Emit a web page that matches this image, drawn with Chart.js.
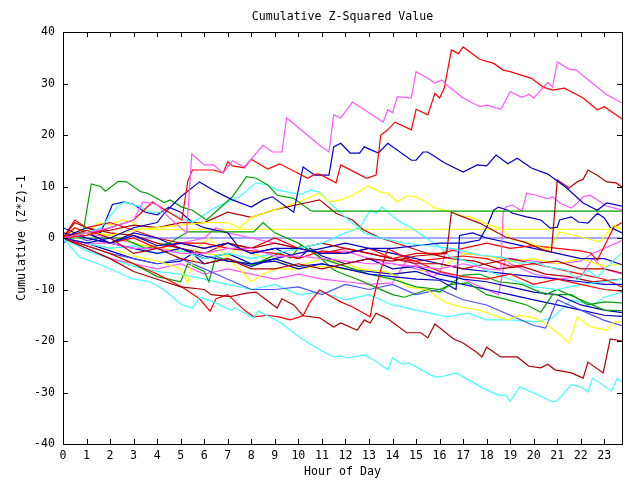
<!DOCTYPE html>
<html>
<head>
<meta charset="utf-8">
<title>Cumulative Z-Squared Value</title>
<script src="https://cdn.jsdelivr.net/npm/chart.js@4.4.0/dist/chart.umd.min.js"></script>
<style>
  html, body { margin: 0; padding: 0; background: #fff; }
  #chart { display: block; }
</style>
</head>
<body>
<canvas id="chart" width="640" height="480"></canvas>
<script>
// hour ticks and value range
const HOUR_TICKS = [0,1,2,3,4,5,6,7,8,9,10,11,12,13,14,15,16,17,18,19,20,21,22,23];
const X_MAX = 23.75;
const Y_TICKS = [-40, -30, -20, -10, 0, 10, 20, 30, 40];

// each series: [hour, cumulative value]
const magentaHigh = [[0,0],[1,1],[2,2],[3,3.5],[3.4,7],[4,6.5],[4.5,4],[5.25,1],[5.47,16.3],[6,14.2],[6.4,14.2],[6.8,12.6],[7.2,15],[7.7,13.8],[8.5,18],[8.9,16.7],[9.3,16.7],[9.5,23.3],[10.9,18],[11.3,16.7],[11.5,23.9],[11.8,23.3],[12.3,26.4],[13,24.3],[13.6,22.5],[13.8,24.9],[14,24.3],[14.2,27.4],[14.8,27.2],[15,32.3],[15.5,31],[15.8,30.1],[16.1,30.7],[16.3,29.7],[17,27.2],[17.7,25.5],[18,25.8],[18.6,25],[19,28.4],[19.5,27.3],[19.8,27.9],[20,27.2],[20.6,30.2],[20.8,29.3],[21,34.2],[21.5,32.8],[21.8,32.6],[23.1,27.8],[23.75,26.2]];
const redHigh = [[0,0],[1,0.5],[2,2],[3,3.5],[3.8,7],[4.5,5],[5.05,3.5],[5.3,11],[5.5,13.2],[6.4,13.2],[6.8,12.6],[7,14.8],[7.2,14],[7.7,13.6],[8,15.3],[8.7,13.4],[9.2,14.4],[9.8,13],[10.4,11.6],[10.7,12.4],[10.9,12.4],[11.6,10.7],[11.8,14.2],[12.9,11.6],[13.3,12.2],[13.5,20],[13.8,21],[14.1,22.5],[14.8,21],[15,25],[15.5,23.9],[15.8,28.1],[16,27.2],[16.2,29.1],[16.5,36.5],[16.8,35.8],[17,37.1],[17.7,34.7],[18.3,33.9],[18.7,32.6],[19,32.3],[19.9,31],[20.4,29.3],[20.8,28.7],[21.3,29.1],[22.1,27.2],[22.7,24.9],[23,25.5],[23.75,23.1]];
const blueHigh = [[0,0],[1,-1],[2,0],[3,2],[4,3],[4.3,4.8],[5,8],[5.8,10.9],[6.5,9],[7.2,7.4],[8,6],[8.5,7.4],[8.9,8],[9.8,5],[10.2,13.8],[10.7,12.2],[11.3,12.2],[11.5,17.7],[11.8,18.4],[12.2,16.5],[12.6,16.5],[12.8,17.7],[13.4,16.5],[13.8,18.4],[14.8,15.1],[15,15.1],[15.3,16.7],[15.5,16.7],[16.2,14.6],[17,12.8],[17.6,14.2],[18,14],[18.4,16.1],[18.9,14.4],[19.3,15.5],[19.9,13.6],[20.6,12.4],[21.4,9.7],[22.1,6.8],[22.7,5.4],[23.1,6.8],[23.75,6.2]];
const greenEarly = [[0,0],[0.5,0.5],[0.85,1],[1.2,10.5],[1.6,10],[1.8,9.1],[2.35,11],[2.7,10.9],[3.3,9],[3.6,8.7],[4.3,6.9],[4.55,7.4],[5.05,6],[5.5,5.4],[6.1,3.5],[7.2,8],[7.8,11.9],[8.2,11.6],[8.7,10.3],[9.1,8.3],[9.8,7.7],[10.5,5.4],[10.6,5.2],[23.75,5.2]];
const yellowFlat = [[0,0],[0.5,2],[1,1],[1.5,3],[2,2.5],[2.5,3.5],[3,3],[3.4,1.7],[23.75,1.7]];
const slateFlat = [[0,-1],[0.5,0.5],[1,-0.5],[1.6,0],[23.75,0]];
const greenMid = [[0,0],[0.7,0],[2.5,0],[3,-1],[3.5,-2],[4.5,-1],[5.3,1.2],[8.1,1.2],[8.5,3],[9,1],[10,-1],[11,-4],[12,-5.5],[13,-7],[14,-8],[15,-9.5],[16,-10],[16.5,-9],[17.2,-8.7],[18,-11],[18.9,-12],[19.7,-13],[20.3,-14.4],[20.8,-11],[21.6,-11],[22.3,-13],[23,-12.4],[23.75,-12.6]];
const cyanLow = [[0,0],[0.7,-3.7],[1.6,-5.2],[2.3,-6.6],[3,-8],[3.7,-8.5],[4.3,-10.1],[5.05,-13],[5.5,-13.6],[5.8,-11.5],[6.4,-12.4],[7.1,-14],[7.3,-13.6],[8.1,-15.5],[8.3,-14.2],[9.2,-16.3],[10.1,-19.4],[10.9,-21.7],[11.5,-23.1],[11.8,-22.9],[12.1,-23.3],[12.8,-22.7],[13.2,-23.7],[13.8,-25.6],[14,-23.3],[14.4,-24.5],[14.7,-24.3],[15.8,-27],[16.2,-26.8],[16.7,-26.2],[17.9,-29.3],[18.5,-30.5],[18.8,-30.5],[19,-31.7],[19.4,-28.9],[20,-30.1],[20.8,-31.8],[21,-31.6],[21.6,-28.5],[22,-28.9],[22.3,-29.9],[22.5,-27.2],[23.3,-29.7],[23.55,-27.2],[23.75,-28]];
const brownLow = [[0,0],[1,-2],[2,-4],[3,-6.5],[4,-8],[5,-9.5],[6,-10],[6.3,-11],[7.1,-11.4],[7.8,-10.7],[8.2,-10.5],[9.1,-13.6],[9.3,-11.8],[9.8,-13],[10.2,-15.1],[10.9,-15.5],[11.5,-17.3],[11.8,-16.5],[12.5,-17.9],[12.8,-15.9],[13.05,-16.5],[13.3,-14.6],[13.8,-15.7],[14.6,-18.4],[15.2,-18.4],[15.5,-19.4],[15.8,-16.7],[16.6,-19.6],[17,-20.4],[17.6,-22.3],[17.8,-23.1],[18,-21.2],[18.6,-23.1],[19.3,-23.1],[19.8,-24.9],[20.3,-25.2],[20.6,-24.5],[20.9,-25.6],[21.6,-26.2],[22.1,-27.2],[22.3,-24.1],[22.95,-26.2],[23.25,-19.6],[23.75,-20]];
const brownLate = [[0,0],[1,1.5],[2,0],[3,-3],[4,-2],[5,-4],[6,-5],[7,-4],[8,-6],[9,-6],[10,-5],[11,-6],[12,-5],[13,-4],[14,-4.5],[15,-3.5],[16.3,-3],[16.5,5],[17,4.1],[17.7,2.9],[18.8,0.2],[19.6,-0.8],[20.4,-2.3],[20.75,-2.7],[21,11.3],[21.5,9.7],[21.85,10.9],[22.1,11.4],[22.3,13.2],[22.7,12.2],[23.1,10.9],[23.5,10.7],[23.75,9.9]];
const yellowUpper = [[0,0],[1,1],[2,0.5],[3,1.5],[4,2],[5,2.5],[6,3],[7,3],[7.5,2],[8,4],[9,5.5],[10,7],[10.9,8.7],[11.3,7],[11.8,7.4],[12.3,8.3],[12.95,10.1],[13.5,8.9],[13.8,8.7],[14.2,7],[14.6,8.2],[15,8],[15.5,6.8],[15.8,5.8],[16.45,5.2],[16.9,4.3],[17.3,4.1],[18,2.7],[18.6,1.9],[19.1,-0.4],[19.7,-0.8],[20.6,-2.3],[21.1,1.2],[22,0.2],[22.8,-0.8],[23.4,2.5],[23.75,1.6]];
const cyanA = [[0,0],[1,1],[1.6,2],[2.3,6],[2.6,7],[3.3,6],[3.7,5],[4.5,5],[5.5,3],[6.1,4.8],[6.5,6],[7.5,8],[8.2,10.7],[8.7,10.3],[9.1,9.3],[9.8,8.7],[10.1,8.5],[10.5,9.3],[10.9,8.9],[11.3,7],[11.8,4.8],[12.8,1],[13.5,0],[14.5,-1],[15.5,-1.5],[16.5,-2],[17.7,-3.3],[18.6,-3.7],[19.4,-4.9],[20,-4.7],[20.6,-5.6],[21.4,-6.2],[21.85,-8.2],[22.3,-6.2],[22.7,-7.6],[23.4,-4.3],[23.75,-2.9]];
const cyanB = [[0,0],[1,-1],[2,-2],[3,-1.5],[4,-3],[5,-2.5],[6,-4],[7,-3],[8,-4],[9,-3],[10,-2],[11,-1],[12,1],[12.6,2],[13.05,5.4],[13.3,4.8],[13.55,6],[14.2,3.5],[14.75,2.1],[16,-1.7],[16.45,-3.7],[17,-4.3],[17.6,-5.2],[17.9,-6.2],[19,-8],[20,-9.5],[21,-10],[22,-9],[23,-8.5],[23.75,-8]];
const redJump = [[0,0],[1,-1.5],[2,-3],[3,-5],[4,-7],[5.05,-9.5],[5.8,-11.8],[6.25,-14.2],[6.5,-11.8],[7,-11],[7.7,-14],[8.1,-15.3],[8.7,-15],[9.15,-15.3],[9.65,-15.9],[10.2,-15.1],[10.5,-12.4],[10.9,-10.1],[11.8,-12.4],[12.3,-13.4],[13.05,-15.3],[13.2,-11.5],[13.5,-6.2],[13.8,-2.1],[14.6,-3.9],[15.2,-4.9],[16,-6.5],[17,-7.5],[18,-8],[19,-7],[20,-9],[21,-8],[22,-9],[23,-10],[23.75,-10.3]];
const redEnd = [[0,0],[0.5,2],[1,1],[2,-1],[3,0],[4,-2],[5,-1],[6,-1],[7,-2],[8,-2.5],[9,-3],[10,-4],[11,-2.5],[12,-3],[13,-2],[14,-4],[15,-3],[16,-3],[17,-2],[18,-1],[19,-2],[20,-1.5],[21,-2],[22,-2.5],[22.4,-2.9],[22.7,-4.3],[23.4,2.1],[23.75,3]];
const blueJump16 = [[0,1],[1,0],[2,-1],[3,-2],[4,-3],[5,-2],[6,-3.5],[7,-4.5],[8,-5],[9,-4.5],[10,-6],[11,-5],[12,-6],[13,-7],[14,-7.5],[15,-8],[16,-8.2],[16.7,-10],[16.85,0.5],[17.4,1],[18,0],[19,-1],[20,-2],[21,-3],[22,-4],[23,-4],[23.75,-5.2]];
const blueJump18 = [[0,0],[1,1],[2,-1],[3,0.5],[4,-1.5],[5,-1],[6,-2],[7,-1],[8,-3],[9,-2],[10,-2],[11,-3],[12,-3],[13,-2],[14,-2],[15,-1.5],[16,-1],[17,-1],[17.7,-0.4],[18,2.1],[18.3,5.4],[18.5,6],[18.9,5.4],[19.1,4.8],[19.7,4.1],[20.3,3.5],[20.7,1.9],[21,2.1],[21.1,3.5],[21.6,4.1],[21.9,3.1],[22.3,2.9],[22.7,4.8],[23,3.9],[23.25,2.1],[23.75,1]];
const magentaJump = [[0,0],[1,-1],[2,-1],[3,-2],[4,-2],[5,-3],[6,-3],[7,-2],[8,-2],[9,-3.5],[10,-3.5],[11,-4],[12,-4.5],[13,-5],[14,-5],[15,-5.5],[16,-6],[17,-5],[18,-6],[18.6,-6.2],[18.7,4.8],[18.8,6],[19.1,6.4],[19.5,5.2],[19.7,8.7],[20.1,8.3],[20.6,7.6],[20.8,8],[21.1,6.8],[21.6,5.8],[21.85,6.8],[22.1,8],[22.4,8.3],[22.7,7.4],[23.1,6.2],[23.75,5.4]];
const magentaMid = [[0,0],[1,1],[2,0],[3,-1],[4,-2],[5,-1],[6,0],[6.5,2],[7,1],[8,0],[9,-1],[10,-2],[11,-3],[12,-2.5],[13,-4],[14,-5],[15,-6],[16,-7],[16.3,-2],[17,-3],[18,-3.5],[19,-4],[20,-4.5],[21,-5],[22,-4.5],[22.5,-3],[23,-2],[23.75,-0.5]];
const slateLow = [[0,0],[1,-1.5],[2,-3],[3,-4],[4,-5],[5,-4],[6,-6],[7,-8],[8,-10],[9,-10],[10,-9.5],[11,-11],[12,-9],[13,-10],[14,-9],[15,-11],[16,-10],[17,-12],[18,-13],[19,-15],[20,-17],[20.5,-17.5],[21,-12],[22,-14],[23,-16],[23.75,-17]];
const greenLow = [[0,0],[1,-1.5],[2,-3],[3,-5],[4,-7.5],[5,-8.5],[5.3,-5],[6,-6.5],[6.2,-8.5],[6.5,-3.5],[7,-4.5],[7.5,-4.7],[8.1,-5.2],[8.7,-3.9],[9.2,-2.9],[9.65,-3.9],[10.1,-1.4],[10.8,-3.3],[11.5,-6.2],[11.8,-6.8],[12.5,-8],[13,-9],[14,-11],[14.5,-11.5],[15.5,-10],[16,-10.5],[17,-7.2],[17.7,-7],[18.5,-8.5],[19.5,-9],[20.5,-11],[21,-10],[22,-12],[23,-14],[23.75,-14.1]];
const brownMid = [[0,0],[0.5,3],[1,2],[2,1],[3,0.5],[4,-1],[5,-2],[6,-3],[7,-1],[8,-2],[9,-1],[10,-2],[11,-1],[12,-2],[13,-3],[14,-4],[15,-5],[16,-5],[17,-6],[18,-5],[19,-4],[20,-5],[21,-4.5],[22,-6],[23,-6],[23.75,-6.8]];
const blueMid = [[0,2],[1,0],[2,-1],[3,1],[4,0],[5,-2],[6,-4],[7,-3],[8,-5],[9,-4],[10,-3],[11,-2],[12,-1],[13,-2],[14,-3],[15,-4],[16,-5],[17,-6],[18,-6.5],[19,-7],[20,-7.5],[21,-8],[22,-8.5],[23,-9],[23.75,-9]];
const blueLow = [[0,0],[1,-1],[2,-2.5],[3,-4],[4,-5],[5,-4.5],[5.5,-3],[6,-5],[7,-4],[8,-5.5],[9,-4],[10,-5.5],[11,-5],[12,-6],[13,-6.5],[14,-7],[15,-6.5],[16,-8],[17,-9],[18,-10],[19,-11],[20,-12],[21,-13],[22,-14],[23,-15],[23.75,-15.2]];
const yellowLow = [[0,0],[1,-1],[2,-2],[3,-3.5],[4,-4.5],[5,-6],[5.3,-8.7],[5.6,-2.3],[6.2,0],[7,-4],[7.6,-6.5],[8,-8.5],[8.5,-7],[9,-6],[10,-6],[11,-5.5],[12,-6],[13,-6.2],[13.8,-6.6],[14.2,-7.6],[14.6,-9.5],[15.5,-10.1],[15.9,-11.5],[16.3,-12.6],[16.9,-13.4],[17.7,-14],[18.3,-15],[18.9,-15.9],[19.4,-15],[20,-15.5],[20.6,-16.9],[21.1,-18.8],[21.5,-20.4],[21.85,-15.3],[22.3,-17],[22.7,-17.5],[23.1,-17.9],[23.4,-16.3],[23.75,-16.3]];
const brownTen = [[0,0],[1,1],[2,1.5],[3,2.5],[4,2],[5,3],[6,3],[7,5],[8,4],[9,5.5],[10,6.5],[10.9,7.4],[11.6,4.8],[12.3,3.5],[12.75,1.6],[13.5,0],[14.5,-1.5],[15.5,-3],[16.5,-4],[17.5,-4.5],[18.5,-6],[19.5,-5.5],[20.5,-7],[21.5,-7.5],[22.5,-8.5],[23.75,-8]];
const blueEarly = [[0,0],[1,2],[1.6,1],[2.1,6.5],[2.6,7],[3,6.5],[3.5,5],[4,4.5],[4.5,6],[5,5],[5.5,3],[6,2],[7,1],[7.5,-2],[8,-3],[9,-2],[10,-4],[10.5,-2],[11,-3.5],[12,-5],[13,-4],[14,-6],[15,-5.5],[16,-7],[17,-8],[18,-8.5],[19,-9.5],[20,-10.5],[21,-11],[22,-13],[23,-14],[23.75,-14.5]];
const redMid = [[0,0],[0.5,3.5],[1,2],[2,3],[3,1.5],[4,0],[5,-1],[6,-2],[7,-1],[8,-2],[9,0],[10,-2],[11,-3],[12,-2],[13,-3],[14,-4],[15,-4.5],[16,-4],[17,-3.5],[18,-4],[19,-5.5],[20,-5],[21,-6],[22,-7],[23,-8],[23.75,-9.5]];
const yellowMid = [[0,1],[1,1.5],[2,0.5],[3,-1],[4,-2],[5,-2.5],[6,-3],[7,-3.5],[7.5,-1.5],[8,-3],[9,-4.5],[10,-5.5],[11,-4],[12,-5],[13,-6.5],[14,-7],[15,-6.5],[16,-6],[17,-3],[18,-3.5],[19,-4.5],[20,-4],[21,-5],[22,-4],[23,-5.5],[23.75,-5]];
const magentaLow = [[0,0],[1,-2],[2,-4],[3,-5],[4,-6],[5,-5],[6,-7],[7,-6],[8,-7],[9,-8],[10,-7],[11,-8],[12,-8.5],[13,-9],[14,-8.7],[14.6,-4.3],[15.2,-5.6],[15.7,-7.6],[16,-6.6],[17,-8],[18,-10],[18.5,-11],[18.8,-4],[19,-5],[20,-7],[21,-8],[22,-7.5],[22.5,-4],[23,-6],[23.75,-7]];
const cyanC = [[0,0],[1,-2.5],[2,-4],[3,-5.5],[4,-6.5],[5,-7],[6,-8],[7,-9],[8,-10],[9,-9],[10,-11],[11,-10.5],[12,-12],[13,-11],[14,-13],[15,-14],[16,-15],[16.3,-15.3],[17.2,-14.6],[18,-15.9],[19,-15.9],[20.1,-16.3],[20.8,-15.5],[21.6,-12],[22.5,-13],[23,-11.5],[23.75,-10.5]];

const RED = '#ff0000', GREEN = '#00a000', BLUE = '#0000c8', MAGENTA = '#ff55ff';
const CYAN = '#40ffff', BROWN = '#b00000', YELLOW = '#ffff00', SLATE = '#5050ff';

const SERIES = [
  [magentaHigh, MAGENTA], [redHigh, RED], [blueHigh, BLUE], [brownLate, BROWN],
  [cyanLow, CYAN], [brownLow, BROWN], [greenEarly, GREEN], [yellowUpper, YELLOW],
  [cyanA, CYAN], [blueJump18, BLUE], [magentaJump, MAGENTA], [redJump, RED],
  [redEnd, RED], [blueJump16, BLUE], [cyanB, CYAN], [greenMid, GREEN],
  [yellowLow, YELLOW], [slateLow, SLATE], [greenLow, GREEN], [brownMid, BROWN],
  [blueMid, BLUE], [blueLow, BLUE], [brownTen, BROWN], [blueEarly, BLUE],
  [redMid, RED], [yellowMid, YELLOW], [magentaLow, MAGENTA], [cyanC, CYAN],
  [magentaMid, MAGENTA], [yellowFlat, YELLOW], [slateFlat, SLATE]
];

const FONT = { family: "'DejaVu Sans Mono', monospace", size: 11.6 };
const TICK_LEN = 5;

// gnuplot-like frame with inward ticks on all four sides, plus the title
const frameAndTicks = {
  id: 'frameAndTicks',
  afterDraw(chart) {
    const { ctx, chartArea: a, scales } = chart;
    ctx.save();
    ctx.strokeStyle = '#000';
    ctx.lineWidth = 1;
    ctx.beginPath();
    scales.x.ticks.forEach(t => {
      const px = Math.round(scales.x.getPixelForValue(t.value)) + 0.5;
      ctx.moveTo(px, a.bottom); ctx.lineTo(px, a.bottom - TICK_LEN);
      ctx.moveTo(px, a.top); ctx.lineTo(px, a.top + TICK_LEN);
    });
    scales.y.ticks.forEach(t => {
      const py = Math.round(scales.y.getPixelForValue(t.value)) + 0.5;
      ctx.moveTo(a.left, py); ctx.lineTo(a.left + TICK_LEN, py);
      ctx.moveTo(a.right, py); ctx.lineTo(a.right - TICK_LEN, py);
    });
    ctx.stroke();
    ctx.strokeRect(a.left + 0.5, a.top + 0.5, a.right - a.left, a.bottom - a.top);

    ctx.fillStyle = '#000';
    ctx.font = FONT.size + 'px ' + FONT.family;
    ctx.textAlign = 'center';
    ctx.textBaseline = 'alphabetic';
    ctx.fillText('Cumulative Z-Squared Value', (a.left + a.right) / 2, 20);
    ctx.restore();
  }
};

Chart.defaults.color = '#000';

new Chart(document.getElementById('chart'), {
  type: 'line',
  data: {
    datasets: SERIES.map(([pts, color]) => ({
      data: pts.map(([x, y]) => ({ x, y })),
      borderColor: color,
      borderWidth: 1.2,
      pointRadius: 0,
      fill: false,
      tension: 0
    }))
  },
  options: {
    responsive: false,
    animation: false,
    devicePixelRatio: 1,
    events: [],
    layout: { padding: { left: 0, right: 18, top: 32, bottom: 0 } },
    plugins: { legend: { display: false }, tooltip: { enabled: false }, title: { display: false } },
    scales: {
      x: {
        type: 'linear',
        min: 0,
        max: X_MAX,
        afterBuildTicks: s => { s.ticks = HOUR_TICKS.map(v => ({ value: v })); },
        afterFit: s => { s.height = 36; },
        grid: { display: false, drawTicks: false },
        border: { display: false },
        ticks: { autoSkip: false, maxRotation: 0, padding: 5, font: FONT },
        title: { display: true, text: 'Hour of Day', font: FONT, padding: { top: 0, bottom: 1 } }
      },
      y: {
        min: -40,
        max: 40,
        afterBuildTicks: s => { s.ticks = Y_TICKS.map(v => ({ value: v })); },
        afterFit: s => { s.width = 63; },
        grid: { display: false, drawTicks: false },
        border: { display: false },
        ticks: { padding: 8, font: FONT },
        title: { display: true, text: 'Cumulative (Z*Z)-1', font: FONT, padding: { top: 15, bottom: 0 } }
      }
    }
  },
  plugins: [frameAndTicks]
});
</script>
</body>
</html>
